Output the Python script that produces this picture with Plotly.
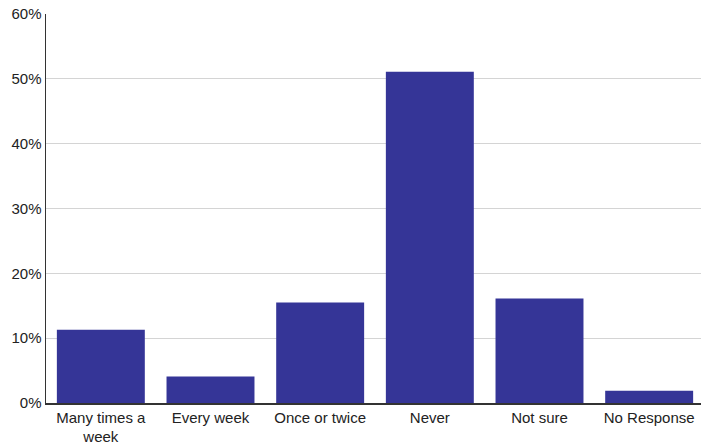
import plotly.graph_objects as go

categories = ["Many times a<br>week", "Every week", "Once or twice", "Never", "Not sure", "No Response"]
values = [11.3, 4.1, 15.5, 51.1, 16.1, 1.9]
y_ticks = [0, 10, 20, 30, 40, 50, 60]
y_tick_labels = ["0%", "10%", "20%", "30%", "40%", "50%", "60%"]

fig = go.Figure(go.Bar(x=categories, y=values, marker=dict(color="#353597", line=dict(width=0)),
                       hoverinfo="skip"))

fig.update_layout(
    width=704, height=444,
    margin=dict(l=46, r=0, t=14, b=41, autoexpand=False),
    paper_bgcolor="white", plot_bgcolor="white",
    bargap=0.198,
    showlegend=False,
    font=dict(family="Liberation Sans, Arial, sans-serif", size=15, color="#222222"),
)
fig.update_xaxes(
    showline=True, linecolor="#333333", linewidth=1.5,
    ticks="", showgrid=False, tickfont=dict(size=15), automargin=False,
)
fig.update_yaxes(
    range=[0, 60], tickvals=y_ticks, ticktext=y_tick_labels,
    showline=True, linecolor="#333333", linewidth=1.5,
    showgrid=True, gridcolor="#d4d4d4", gridwidth=1,
    ticks="", zeroline=False, tickfont=dict(size=15), automargin=False,
)
fig.write_html(
    "out.html",
    config={"displayModeBar": False, "staticPlot": True},
    post_script="document.body.style.margin='0';document.body.style.padding='0';document.body.style.overflow='hidden';document.documentElement.style.overflow='hidden';",
)
